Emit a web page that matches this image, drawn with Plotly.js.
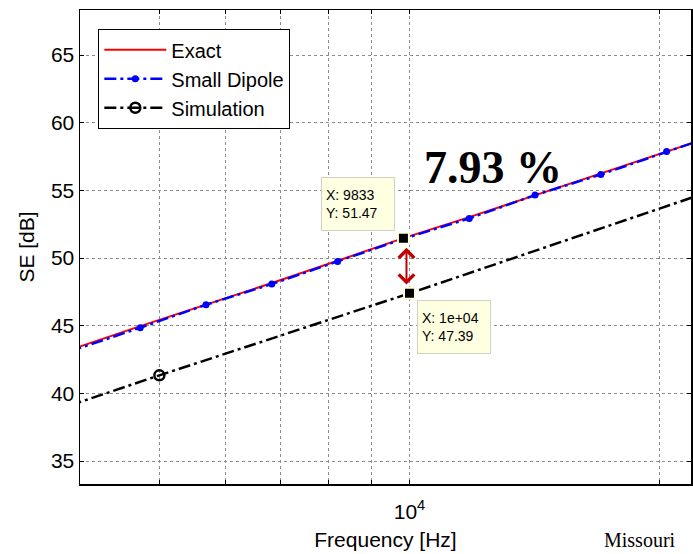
<!DOCTYPE html>
<html><head><meta charset="utf-8">
<script src="https://cdn.plot.ly/plotly-3.0.1.min.js"></script>
<style>html,body{margin:0;padding:0;background:#fff}#chart{width:693px;height:554px}</style>
</head><body><div id="chart"></div>
<script>
// Frequencies [Hz] (log axis)
const freq = [3900, 4742, 5690, 6828, 8194, 9833, 11800, 14160, 16992, 20390, 22500];
const exactSE = [43.2, 44.97, 46.56, 48.15, 49.8, 51.47, 53.02, 54.63, 56.22, 57.83, 58.74];
const dipoleSE = [43.1, 44.85, 46.55, 48.08, 49.75, 51.42, 52.93, 54.65, 56.17, 57.88, 58.75];
const simFreq = [3900, 5000, 10000, 22500];
const simSE = [39.1, 41.33, 47.39, 54.72];
// Data tips
const tipFreq = [9833, 10000];
const tipSE = [51.47, 47.39];
const tipXLabel = ['9833', '1e+04'];
const diffLabel = '7.93 %';
// Axis ticks
const xTickVals = [5000, 6000, 7000, 8000, 9000, 10000, 20000];
const xTickText = ['', '', '', '', '', '10<sup>4</sup>', ''];
const yTickVals = [35, 40, 45, 50, 55, 60, 65];

const F = 'Arial, "Liberation Sans", sans-serif';
const traces = [
  {x: freq, y: exactSE, name: 'Exact', mode: 'lines', type: 'scatter',
   line: {color: '#ff0000', width: 2}},
  {x: freq, y: dipoleSE, name: 'Small Dipole', mode: 'lines+markers', type: 'scatter',
   line: {color: '#0000ff', width: 2.5, dash: '12px,4px,3px,4px'},
   marker: {color: '#0000ff', size: 7, symbol: 'circle'}},
  {x: simFreq, y: simSE, name: 'Simulation', mode: 'lines+markers', type: 'scatter',
   line: {color: '#000000', width: 2.5, dash: '12px,4px,3px,4px'},
   marker: {color: 'rgba(255,255,255,0)', size: 10, symbol: 'circle', line: {color: '#000000', width: 2.5}}},
  {x: tipFreq, y: tipSE, mode: 'markers', type: 'scatter', showlegend: false, hoverinfo: 'skip',
   marker: {color: '#000', size: 11, symbol: 'square', line: {color: '#ffffe1', width: 2}}}
];

const boxStyle = {bgcolor: '#ffffe1', bordercolor: '#d2d2c4', borderwidth: 1, borderpad: 4,
  align: 'left', showarrow: false, font: {family: F, size: 14, color: '#000'}, width: 64, height: 44};
const lx = tipFreq.map(v => Math.log10(v));
const arrowX = Math.log10((tipFreq[0] + tipFreq[1]) / 2);
const annotations = [
  Object.assign({}, boxStyle, {x: lx[0], y: tipSE[0], xref: 'x', yref: 'y', xanchor: 'right', yanchor: 'bottom',
    xshift: -8, yshift: 7, text: 'X: ' + tipXLabel[0] + '<br>Y: ' + tipSE[0].toFixed(2)}),
  Object.assign({}, boxStyle, {x: lx[1], y: tipSE[1], xref: 'x', yref: 'y', xanchor: 'left', yanchor: 'top',
    xshift: 7, yshift: -7, text: 'X: ' + tipXLabel[1] + '<br>Y: ' + tipSE[1].toFixed(2)}),
  {x: arrowX, y: tipSE[1] + 0.65, ax: arrowX, ay: tipSE[0] - 0.6, xref: 'x', yref: 'y', axref: 'x', ayref: 'y',
   text: '', showarrow: true, arrowside: 'end+start', arrowhead: 4, startarrowhead: 4,
   arrowsize: 1.5, startarrowsize: 1.5, arrowwidth: 2, arrowcolor: '#c00000', standoff: 0, startstandoff: 0},
  {x: 0.676, y: 0.667, xref: 'paper', yref: 'paper', xanchor: 'center', yanchor: 'middle', showarrow: false,
   text: '<b>' + diffLabel + '</b>', font: {family: '"Liberation Serif", "Times New Roman", serif', size: 46, color: '#000'}},
  {x: 0.855, y: -0.09, xref: 'paper', yref: 'paper', xanchor: 'left', yanchor: 'top', showarrow: false,
   text: 'Missouri', font: {family: '"Liberation Serif", "Times New Roman", serif', size: 20, color: '#000'}}
];

const axisCommon = {
  ticks: 'inside', ticklen: 4, tickcolor: '#000', tickwidth: 1,
  showline: true, linecolor: '#000', linewidth: 1.5, mirror: 'ticks',
  showgrid: true, gridcolor: '#8c8c8c', gridwidth: 1, griddash: 'dot', zeroline: false,
  tickfont: {family: F, size: 21, color: '#000'}
};
const layout = {
  width: 693, height: 554,
  margin: {l: 80, r: 2, t: 10, b: 70},
  paper_bgcolor: '#fff', plot_bgcolor: '#fff',
  font: {family: F, color: '#000'},
  xaxis: Object.assign({}, axisCommon, {
    type: 'log', range: [Math.log10(4013), Math.log10(21815)],
    tickmode: 'array', tickvals: xTickVals, ticktext: xTickText, ticklabelstandoff: 8,
    title: {text: 'Frequency [Hz]', font: {family: F, size: 21, color: '#000'}, standoff: 10}
  }),
  yaxis: Object.assign({}, axisCommon, {
    range: [33.3, 68.33], tickmode: 'array', tickvals: yTickVals,
    title: {text: 'SE [dB]', font: {family: F, size: 21, color: '#000'}, standoff: 10}
  }),
  legend: {x: 0.0295, y: 0.96, xanchor: 'left', yanchor: 'top', bgcolor: '#fff',
    bordercolor: '#000', borderwidth: 1.3, font: {family: F, size: 20, color: '#000'},
    itemwidth: 62, tracegroupgap: 0},
  annotations: annotations,
  showlegend: true
};
Plotly.newPlot('chart', traces, layout, {staticPlot: true, displayModeBar: false});
</script>
</body></html>
